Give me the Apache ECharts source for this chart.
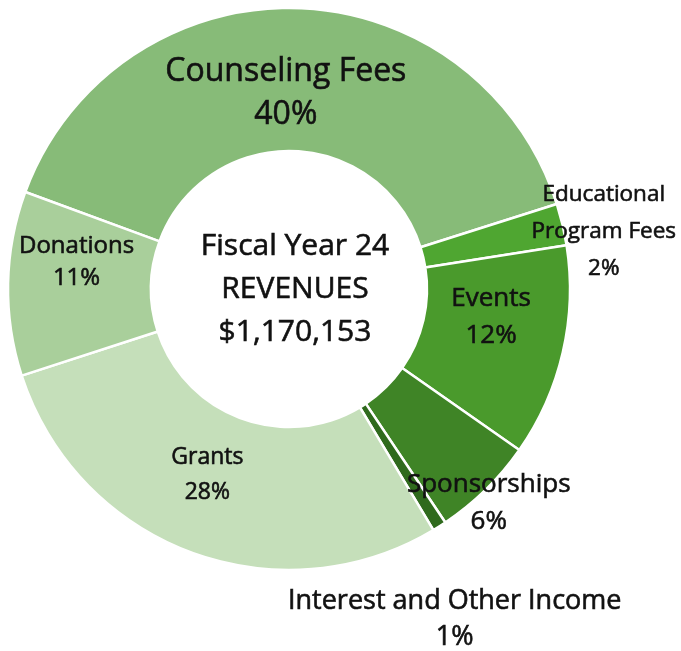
<!DOCTYPE html>
<html>
<head>
<meta charset="utf-8">
<script src="https://cdn.jsdelivr.net/npm/echarts@6/dist/echarts.min.js"></script>
<style>
html,body{margin:0;padding:0;background:#fff;}
#chart{width:681px;height:651px;}
</style>
</head>
<body>
<div id="chart"></div>
<script>
// Data (percent share of revenue)
var categories = ['Counseling Fees', 'Educational Program Fees', 'Events', 'Sponsorships', 'Interest and Other Income', 'Grants', 'Donations'];
var values = [39.5, 2.4, 12.2, 5.9, 0.8, 28.6, 10.6];
var percentLabels = ['40%', '2%', '12%', '6%', '1%', '28%', '11%'];
var labelNames = ['Counseling Fees', 'Educational\nProgram Fees', 'Events', 'Sponsorships', 'Interest and Other Income', 'Grants', 'Donations'];
var centerLines = ['Fiscal Year 24', 'REVENUES', '$1,170,153'];

// Styling / layout (kept separate from data)
var colors = ['#87bb78', '#4fa631', '#4a9a2c', '#3f8426', '#2f6a1d', '#c5dfba', '#a9cf9b'];
var labelOffsets = [[-8, 17], [108, -9], [-5, -20], [51, 62], [52, 151], [-7, -13], [0, -23]];
var nameSizes = [32, 22.5, 26, 26, 27, 23, 24];
var lineHeights = [43, 37, 37, 37, 36, 35, 32];
var FONT = 'Open Sans';

var chart = echarts.init(document.getElementById('chart'), null, {renderer: 'canvas'});

var seriesData = categories.map(function (c, i) {
  return {
    name: c,
    value: values[i],
    itemStyle: {color: colors[i]},
    label: {
      offset: labelOffsets[i],
      formatter: labelNames[i] + '\n' + percentLabels[i],
      fontSize: nameSizes[i],
      lineHeight: lineHeights[i]
    }
  };
});

chart.setOption({
  animation: false,
  title: {
    text: centerLines.join('\n'),
    left: 290,
    top: 220,
    textAlign: 'center',
    textStyle: {
      fontFamily: FONT,
      fontSize: 30,
      fontWeight: 'normal',
      lineHeight: 43,
      color: '#111',
      textBorderColor: '#111',
      textBorderWidth: 0.6
    }
  },
  series: [{
    type: 'pie',
    center: [289, 289],
    radius: [138, 281],
    startAngle: 159.8,
    clockwise: true,
    avoidLabelOverlap: false,
    itemStyle: {borderColor: '#fff', borderWidth: 2.5},
    label: {
      show: true,
      position: 'inside',
      color: '#111',
      fontFamily: FONT,
      fontWeight: 'normal',
      textBorderColor: '#111',
      textBorderWidth: 0.6,
      align: 'center'
    },
    labelLine: {show: false},
    emphasis: {disabled: true},
    data: seriesData
  }]
});
</script>
</body>
</html>
